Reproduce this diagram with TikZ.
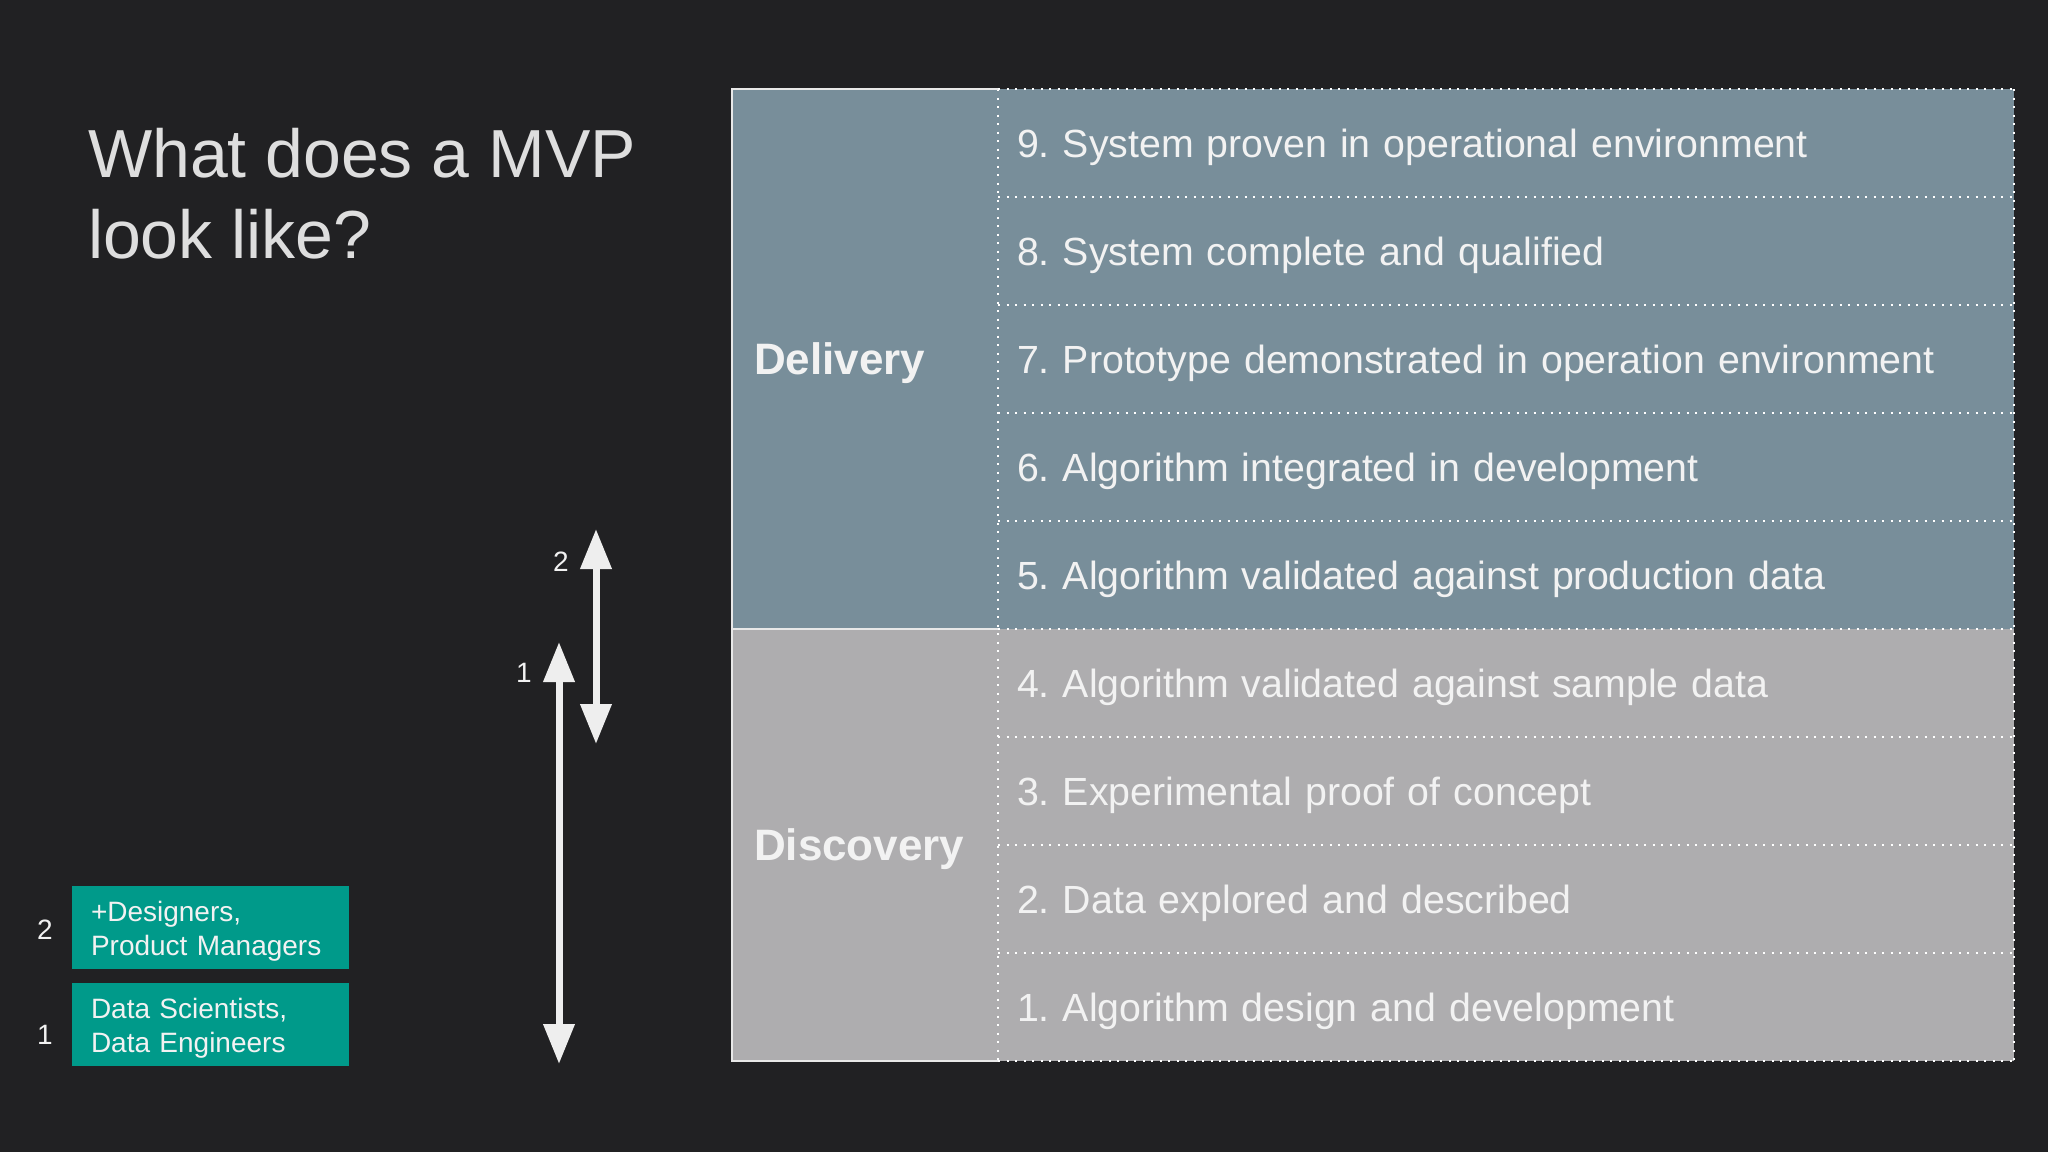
\documentclass[tikz,border=0pt]{standalone}
\usepackage{fontspec}
\setmainfont{Liberation Sans}
\frenchspacing
\usetikzlibrary{arrows.meta}
\definecolor{bgcol}{HTML}{212123}
\definecolor{delcol}{HTML}{788E9A}
\definecolor{disccol}{HTML}{AEADAF}
\definecolor{greenbox}{HTML}{009A8A}
\definecolor{titlecol}{HTML}{DEDEDE}
\definecolor{txtcol}{HTML}{F2F2F2}
\definecolor{arrcol}{HTML}{EEEEEE}
\definecolor{linecol}{HTML}{E8E8E8}
\begin{document}
\begin{tikzpicture}[x=1pt,y=-1pt,
  every node/.style={outer sep=0pt},
  titletext/.style={anchor=base west, inner sep=0pt, text=titlecol, font=\fontsize{68}{81}\selectfont},
  rowbase/.style={minimum width=1016pt, minimum height=108pt, text width=978pt, inner xsep=19pt, inner ysep=0pt,
    text height=28.2pt, text depth=0pt, align=left, text=txtcol, font=\fontsize{39.3}{47}\selectfont\frenchspacing},
  delrow/.style={rowbase, fill=delcol},
  discrow/.style={rowbase, fill=disccol},
  phasebox/.style={minimum width=266pt, text width=222pt, inner xsep=22pt, inner ysep=0pt,
    text height=31.5pt, text depth=0pt, align=left, text=txtcol, font=\fontsize{44}{52}\bfseries\selectfont},
  dotline/.style={draw=white, line width=2pt, dash pattern=on 2pt off 6.5pt},
  solidline/.style={draw=linecol, line width=2.2pt},
  gbox/.style={fill=greenbox, minimum width=277pt, minimum height=83pt, text width=239pt, inner xsep=19pt, inner ysep=0pt,
    text depth=32pt, align=left, text=txtcol, font=\fontsize{28}{34}\selectfont},
  numlbl/.style={inner sep=0pt, text=txtcol, font=\fontsize{28}{34}\selectfont},
  bigarrow/.style={draw=arrcol, line width=7pt, {Triangle[width=30pt,length=40pt]}-{Triangle[width=30pt,length=40pt]}},
]
\useasboundingbox (0,0) rectangle (2048,1152);
\fill[bgcol] (0,0) rectangle (2048,1152);

% title
\node[titletext] (t1) at (88,177) {What does a MVP};
\node[titletext] (t2) at (88,258) {look like?};

% left phase column
\node[phasebox, fill=delcol, minimum height=540pt] (del) at (865,359) {Delivery};
\node[phasebox, fill=disccol, minimum height=432pt] (disc) at (865,845) {Discovery};

% rows
\node[delrow] (r9) at (1506,143) {9. System proven in operational environment};
\node[delrow] (r8) at (1506,251) {8. System complete and qualified};
\node[delrow] (r7) at (1506,359) {7. Prototype demonstrated in operation environment};
\node[delrow] (r6) at (1506,467) {6. Algorithm integrated in development};
\node[delrow] (r5) at (1506,575) {5. Algorithm validated against production data};
\node[discrow] (r4) at (1506,683) {4. Algorithm validated against sample data};
\node[discrow] (r3) at (1506,791) {3. Experimental proof of concept};
\node[discrow] (r2) at (1506,899) {2. Data explored and described};
\node[discrow] (r1) at (1506,1007) {1. Algorithm design and development};

% dotted grid of the rows
\foreach \r in {r9,r8,r7,r6,r5,r4,r3,r2,r1}{
  \draw[dotline] (\r.north west) -- (\r.north east);
}
\draw[dotline] (r1.south west) -- (r1.south east);
\draw[dotline] (r9.north east) -- (r1.south east);
\draw[dotline] (r9.north west) -- (r1.south west);

% solid borders of the phase column
\draw[solidline] (del.north east) -- (del.north west) -- (disc.south west) -- (disc.south east);
\draw[solidline] (del.south west) -- (del.south east);

% arrows
\coordinate (a1top) at (559,642);
\coordinate (a1bot) at (559,1064);
\coordinate (a2top) at (596,529);
\coordinate (a2bot) at (596,744);
\draw[bigarrow] (a1top) -- (a1bot);
\draw[bigarrow] (a2top) -- (a2bot);
\node[numlbl] (al2) at (561,562) {2};
\node[numlbl] (al1) at (524,673) {1};

% team boxes
\node[gbox] (g2) at (210.5,927.5) {+Designers,\\Product Managers};
\node[gbox] (g1) at (210.5,1024) {Data Scientists,\\Data Engineers};
\node[numlbl] (gl2) at (45,930) {2};
\node[numlbl] (gl1) at (45,1035) {1};
\end{tikzpicture}
\end{document}
